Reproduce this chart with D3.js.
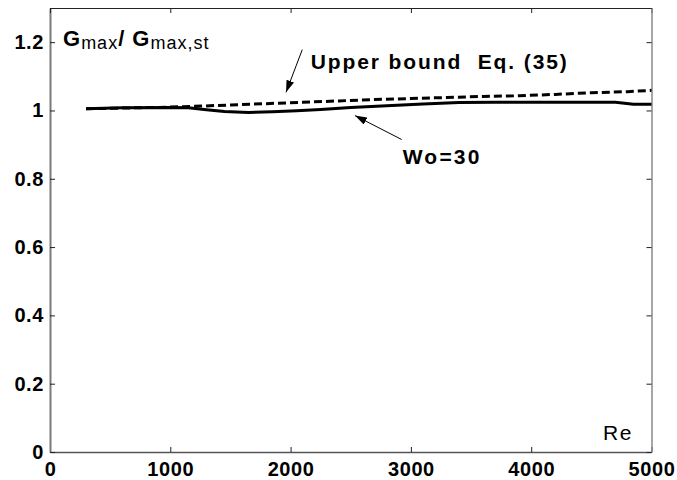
<!DOCTYPE html>
<html>
<head>
<meta charset="utf-8">
<script src="https://cdn.jsdelivr.net/npm/d3@7"></script>
<style>
  html, body { margin: 0; padding: 0; background: #fff; }
  svg { display: block; font-family: "Liberation Sans", Arial, sans-serif; }
</style>
</head>
<body>
<svg id="chart" width="677" height="480"></svg>
<script>
// Reynolds numbers and normalized peak ratio G_max / G_max,st
const reUpper = [300, 600, 900, 1200, 1500, 1800, 2100, 2400, 2700, 3000, 3300, 3600, 3900, 4200, 4500, 4800, 5000];
const gUpper  = [1.005, 1.007, 1.009, 1.012, 1.016, 1.020, 1.024, 1.028, 1.032, 1.035, 1.038, 1.041, 1.043, 1.047, 1.052, 1.055, 1.059];

const reWo30 = [300, 600, 1000, 1150, 1300, 1450, 1650, 1850, 2050, 2250, 2500, 2800, 3100, 3400, 3700, 4000, 4400, 4700, 4850, 5000];
const gWo30  = [1.005, 1.008, 1.009, 1.008, 1.002, 0.997, 0.994, 0.996, 0.999, 1.003, 1.009, 1.014, 1.019, 1.023, 1.024, 1.024, 1.024, 1.024, 1.018, 1.018];

const xTicks = [0, 1000, 2000, 3000, 4000, 5000];
const yTicks = [0, 0.2, 0.4, 0.6, 0.8, 1, 1.2];

const svg = d3.select("#chart");
const plotLeft = 50, plotRight = 651.5, plotTop = 8, plotBottom = 452;

const x = d3.scaleLinear().domain([0, 5000]).range([plotLeft, plotRight]);
const y = d3.scaleLinear().domain([0, 1.3]).range([plotBottom, plotTop]);

// Frame with inward ticks on all four sides
const gB = svg.append("g").attr("transform", `translate(0,${plotBottom})`)
  .call(d3.axisBottom(x).tickValues(xTicks).tickSize(-5).tickSizeOuter(0).tickPadding(10).tickFormat(d => String(d)));
const gL = svg.append("g").attr("transform", `translate(${plotLeft},0)`)
  .call(d3.axisLeft(y).tickValues(yTicks).tickSize(-5).tickSizeOuter(0).tickPadding(6).tickFormat(d => String(d)));
const gT = svg.append("g").attr("transform", `translate(0,${plotTop})`)
  .call(d3.axisTop(x).tickValues(xTicks).tickSize(-5).tickSizeOuter(0).tickFormat(""));
const gR = svg.append("g").attr("transform", `translate(${plotRight},0)`)
  .call(d3.axisRight(y).tickValues(yTicks).tickSize(-5).tickSizeOuter(0).tickFormat(""));

gB.select(".domain").attr("stroke", "#555").attr("stroke-width", 1.5);
gL.select(".domain").attr("stroke", "#7a7a7a").attr("stroke-width", 2);
gT.select(".domain").attr("stroke", "#222").attr("stroke-width", 1);
gR.select(".domain").attr("stroke", "#888").attr("stroke-width", 1.5);
svg.selectAll(".tick line").attr("stroke", "#222").attr("stroke-width", 1);

[gB, gL].forEach(g => g.selectAll(".tick text")
  .attr("fill", "#000")
  .style("font-family", "'Liberation Sans', Arial, sans-serif")
  .style("font-size", "20px")
  .style("font-weight", "bold")
  .style("letter-spacing", "0.6px"));

// Curves
const line = d3.line().x(d => x(d[0])).y(d => y(d[1]));

svg.append("path")
  .datum(d3.zip(reUpper, gUpper))
  .attr("d", line)
  .attr("fill", "none")
  .attr("stroke", "#000")
  .attr("stroke-width", 3)
  .attr("stroke-dasharray", "8,4");

svg.append("path")
  .datum(d3.zip(reWo30, gWo30))
  .attr("d", line)
  .attr("fill", "none")
  .attr("stroke", "#000")
  .attr("stroke-width", 3);

// Arrowhead marker
svg.append("defs").append("marker")
  .attr("id", "arrowhead")
  .attr("viewBox", "0 0 12 8")
  .attr("refX", 12).attr("refY", 4)
  .attr("markerWidth", 12).attr("markerHeight", 8)
  .attr("markerUnits", "userSpaceOnUse")
  .attr("orient", "auto")
  .append("path").attr("d", "M0,0 L12,4 L0,8 Z").attr("fill", "#000");

// Annotations: [text, text Re, text G, arrow tail Re, tail G, arrow tip Re, tip G, letter-spacing]
const notes = [
  ["Upper bound  Eq. (35)", 2167, 1.12, 2097, 1.178, 1962, 1.053, 1.9],
  ["Wo=30", 2932, 0.844, 2923, 0.915, 2535, 0.985, 2.2]
];

notes.forEach(n => {
  svg.append("line")
    .attr("x1", x(n[3])).attr("y1", y(n[4]))
    .attr("x2", x(n[5])).attr("y2", y(n[6]))
    .attr("stroke", "#000").attr("stroke-width", 1)
    .attr("marker-end", "url(#arrowhead)");
  svg.append("text")
    .attr("x", x(n[1])).attr("y", y(n[2]))
    .attr("font-size", 21).attr("font-weight", "bold")
    .style("letter-spacing", n[7] + "px")
    .style("white-space", "pre")
    .text(n[0]);
});

// Axis titles
const yTitle = svg.append("text")
  .attr("x", 63).attr("y", 46)
  .style("letter-spacing", "1px");
yTitle.append("tspan").attr("font-size", 22).attr("font-weight", "bold").text("G");
yTitle.append("tspan").attr("font-size", 18).attr("dy", 3).text("max");
yTitle.append("tspan").attr("font-size", 22).attr("font-weight", "bold").attr("dy", -3).text("/ G");
yTitle.append("tspan").attr("font-size", 18).attr("dy", 3).text("max,st");

svg.append("text")
  .attr("x", 603).attr("y", 440)
  .attr("font-size", 21)
  .style("letter-spacing", "1.5px")
  .text("Re");
</script>
</body>
</html>
